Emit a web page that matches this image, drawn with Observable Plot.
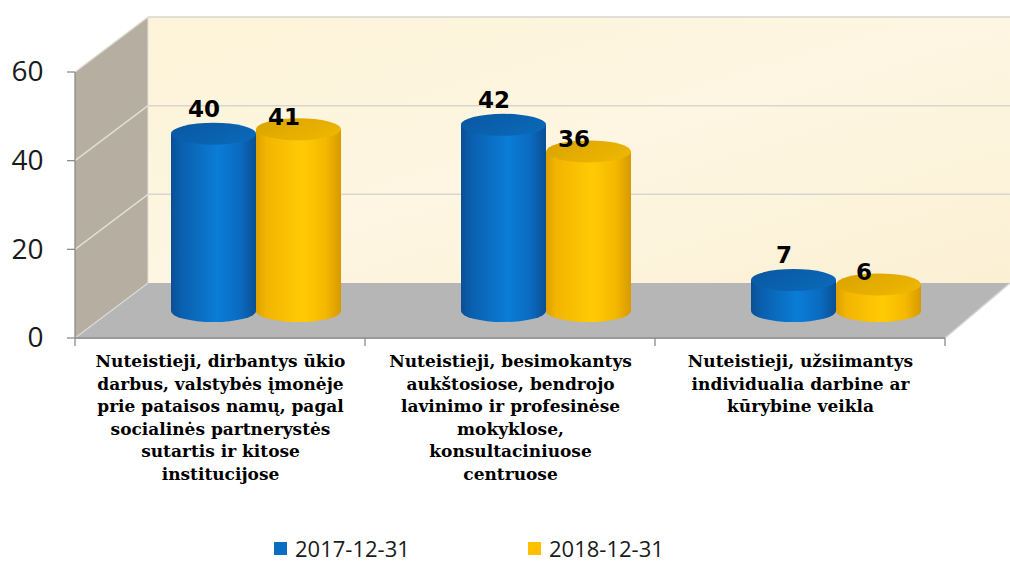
<!DOCTYPE html>
<html><head><meta charset="utf-8">
<script src="https://cdn.jsdelivr.net/npm/d3@7"></script>
<script src="https://cdn.jsdelivr.net/npm/@observablehq/plot@0.6"></script>
<style>
html,body{margin:0;padding:0;background:#fff;}
#chart svg{display:block;}
#legend{position:relative;width:1010px;height:43px;font-family:"Open Sans",sans-serif;font-size:22px;color:#1a1a1a;}
#legend .item{position:absolute;top:18px;height:20px;line-height:20px;display:flex;align-items:center;white-space:nowrap;}
#legend .sw{width:13px;height:13px;margin-right:8px;display:inline-block;}
</style>
</head><body>
<div id="chart"></div>
<div id="legend"></div>
<script>
// ---- data ----
const categories = [
  "Nuteistieji, dirbantys ūkio\ndarbus, valstybės įmonėje\nprie pataisos namų, pagal\nsocialinės partnerystės\nsutartis ir kitose\ninstitucijose",
  "Nuteistieji, besimokantys\naukštosiose, bendrojo\nlavinimo ir profesinėse\nmokyklose,\nkonsultaciniuose\ncentruose",
  "Nuteistieji, užsiimantys\nindividualia darbine ar\nkūrybine veikla"
];
const series = ["2017-12-31", "2018-12-31"];
const values2017 = [40, 42, 7];
const values2018 = [41, 36, 6];
const yTicks = [0, 20, 40, 60];
const colors = ["#0A6DC2", "#FFC000"];

const rows = [];
categories.forEach((c, i) => {
  rows.push({cat: c, series: series[0], s: 0, v: values2017[i]});
  rows.push({cat: c, series: series[1], s: 1, v: values2018[i]});
});

// ---- 3D geometry constants (styling) ----
const DXL = 73, DXR = 65, DY = -55;    // wall depth
const SHIFT = 36, HALF_DY = -27;       // bars stand at mid depth
const BAR_W = 85, RY = 11;

const W = 1010, H = 520;

function walls(index, scales, values, dims) {
  const X = scales.x, Y = scales.y;
  const bw = X.bandwidth();
  const x0 = X(categories[0]), x1 = X(categories[categories.length - 1]) + bw;
  const yMax = Y(yTicks[yTicks.length - 1]), y0 = Y(0);
  const g = d3.create("svg:g");
  const defs = g.append("defs");
  const bg = defs.append("linearGradient").attr("id", "backwall").attr("x1", 0).attr("y1", 0).attr("x2", 1).attr("y2", 1);
  bg.append("stop").attr("offset", "0%").attr("stop-color", "#FDF3D8");
  bg.append("stop").attr("offset", "50%").attr("stop-color", "#FEF6E2");
  bg.append("stop").attr("offset", "100%").attr("stop-color", "#FBF0D4");
  // back wall
  g.append("polygon")
    .attr("points", [[x0 + DXL, yMax + DY], [x1 + DXR, yMax + DY], [x1 + DXR, y0 + DY], [x0 + DXL, y0 + DY]].join(" "))
    .attr("fill", "url(#backwall)");
  // left wall
  g.append("polygon")
    .attr("points", [[x0, yMax], [x0 + DXL, yMax + DY], [x0 + DXL, y0 + DY], [x0, y0]].join(" "))
    .attr("fill", "#B5AEA1");
  // floor
  g.append("polygon")
    .attr("points", [[x0, y0], [x0 + DXL, y0 + DY], [x1 + DXR, y0 + DY], [x1, y0]].join(" "))
    .attr("fill", "#B6B6B6");
  // grid lines
  yTicks.filter(t => t > 0).forEach(t => {
    const yy = Y(t);
    g.append("line").attr("x1", x0 + DXL).attr("x2", x1 + DXR).attr("y1", yy + DY).attr("y2", yy + DY)
      .attr("stroke", "#D9D6CF").attr("stroke-width", 1.5);
    g.append("line").attr("x1", x0).attr("x2", x0 + DXL).attr("y1", yy).attr("y2", yy + DY)
      .attr("stroke", "#E2DED6").attr("stroke-width", 1.5);
  });
  // floor edges
  g.append("line").attr("x1", x0).attr("x2", x0 + DXL).attr("y1", y0).attr("y2", y0 + DY).attr("stroke", "#DADADA").attr("stroke-width", 1.2);
  g.append("line").attr("x1", x1).attr("x2", x1 + DXR).attr("y1", y0).attr("y2", y0 + DY).attr("stroke", "#D4D4D4").attr("stroke-width", 1.5);
  g.append("line").attr("x1", x0 + DXL).attr("x2", x0 + DXL).attr("y1", yMax + DY).attr("y2", y0 + DY).attr("stroke", "#E4E0D8").attr("stroke-width", 1);
  // axes
  g.append("line").attr("x1", x0).attr("x2", x0).attr("y1", yMax).attr("y2", y0).attr("stroke", "#8C8C8C").attr("stroke-width", 1.3);
  g.append("line").attr("x1", x0).attr("x2", x1).attr("y1", y0).attr("y2", y0).attr("stroke", "#9A9A9A").attr("stroke-width", 1.8);
  yTicks.forEach(t => {
    g.append("line").attr("x1", x0 - 8).attr("x2", x0).attr("y1", Y(t)).attr("y2", Y(t)).attr("stroke", "#8C8C8C").attr("stroke-width", 1.3);
  });
  categories.forEach((c, i) => {
    const xb = X(c);
    g.append("line").attr("x1", xb).attr("x2", xb).attr("y1", y0).attr("y2", y0 + 8).attr("stroke", "#8C8C8C").attr("stroke-width", 1.3);
  });
  g.append("line").attr("x1", x1).attr("x2", x1).attr("y1", y0).attr("y2", y0 + 8).attr("stroke", "#8C8C8C").attr("stroke-width", 1.3);
  return g.node();
}

function cylinders(index, scales, values, dims) {
  const X = scales.x, Y = scales.y;
  const bw = X.bandwidth();
  const g = d3.create("svg:g");
  const defs = g.append("defs");
  const bodyStops = [
    [["0%", "#0B4F95"], ["12%", "#0A5FAE"], ["55%", "#0A7DD6"], ["82%", "#0A6AC0"], ["100%", "#0A4F92"]],
    [["0%", "#DDA000"], ["12%", "#F2B500"], ["55%", "#FFCB05"], ["82%", "#F4B800"], ["100%", "#D69A00"]]
  ];
  const topStops = [
    [["0%", "#0A579F"], ["100%", "#0A68B8"]],
    [["0%", "#D9A200"], ["100%", "#EDB600"]]
  ];
  bodyStops.forEach((st, s) => {
    const lg = defs.append("linearGradient").attr("id", "body" + s).attr("x1", 0).attr("x2", 1).attr("y1", 0).attr("y2", 0);
    st.forEach(([o, c]) => lg.append("stop").attr("offset", o).attr("stop-color", c));
  });
  topStops.forEach((st, s) => {
    const lg = defs.append("linearGradient").attr("id", "top" + s).attr("x1", 0).attr("x2", 1).attr("y1", 0).attr("y2", 0.6);
    st.forEach(([o, c]) => lg.append("stop").attr("offset", o).attr("stop-color", c));
  });
  const rx = BAR_W / 2;
  // draw by category, series 0 first so series 1 overlaps it
  rows.forEach(d => {
    const cx = X(d.cat) + bw / 2 + SHIFT + (d.s === 0 ? -rx : rx);
    const yb = Y(0) + HALF_DY, yt = Y(d.v) + HALF_DY;
    g.append("path")
      .attr("d", `M${cx - rx},${yt} V${yb} A${rx},${RY} 0 0 0 ${cx + rx},${yb} V${yt} Z`)
      .attr("fill", `url(#body${d.s})`);
    g.append("ellipse").attr("cx", cx).attr("cy", yt).attr("rx", rx).attr("ry", RY)
      .attr("fill", `url(#top${d.s})`);
  });
  return g.node();
}

const labelFont = {fontFamily: "DejaVu Sans", fontWeight: "bold", fontSize: 23, fill: "#000"};

const chart = Plot.plot({
  width: W,
  height: H,
  marginTop: 72,
  marginBottom: H - 338,
  marginLeft: 75,
  marginRight: 65,
  style: {background: "transparent", overflow: "visible"},
  x: {type: "band", domain: categories, padding: 0, axis: null},
  y: {domain: [0, 60], axis: null},
  marks: [
    walls,
    cylinders,
    Plot.text(rows.filter(d => d.s === 0), {x: "cat", y: "v", text: d => String(d.v), dx: SHIFT - BAR_W / 2 - 10, dy: -52, ...labelFont}),
    Plot.text(rows.filter(d => d.s === 1), {x: "cat", y: "v", text: d => String(d.v), dx: SHIFT + BAR_W / 2 - 15, dy: -39, ...labelFont}),
    Plot.text(yTicks, {y: d => d, text: d => String(d), frameAnchor: "left", textAnchor: "end", dx: -32, fontFamily: "Open Sans", fontSize: 28, fill: "#1a1a1a"}),
    Plot.text(categories, {x: d => d, text: d => d, frameAnchor: "bottom", lineAnchor: "top", dy: 13, fontFamily: "DejaVu Serif", fontWeight: "bold", fontSize: 17, lineHeight: 1.32, fill: "#000"})
  ]
});
document.getElementById("chart").appendChild(chart);

// legend
const legend = d3.select("#legend");
const legendLeft = [274, 528];
series.forEach((s, i) => {
  const it = legend.append("div").attr("class", "item").style("left", legendLeft[i] + "px");
  it.append("span").attr("class", "sw").style("background", colors[i]);
  it.append("span").text(s);
});
</script>
</body></html>
